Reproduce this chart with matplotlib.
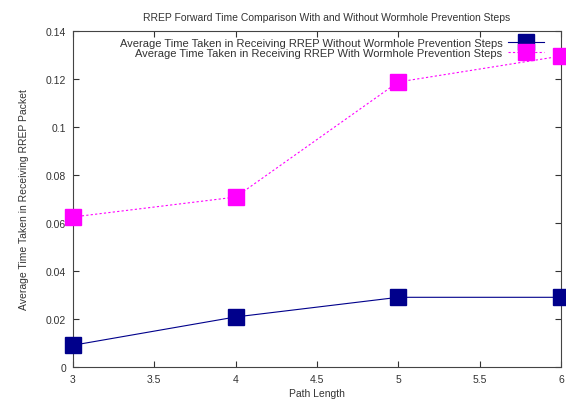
import matplotlib.pyplot as plt

path_length = [3, 4, 5, 6]
time_without = [0.009, 0.0208, 0.029, 0.029]
time_with = [0.0625, 0.0708, 0.1188, 0.1296]
label_without = 'Average Time Taken in Receiving RREP Without Wormhole Prevention Steps'
label_with = 'Average Time Taken in Receiving RREP With Wormhole Prevention Steps'

plt.rcParams['font.family'] = ['Liberation Sans', 'DejaVu Sans']
fig = plt.figure(figsize=(5.66, 4.02), dpi=100)
ax = fig.add_axes([0.129, 0.085, 0.862, 0.835])

ax.plot(path_length, time_without, color='#00008b', lw=0.8, marker='s',
        markersize=12, label=label_without, clip_on=False, zorder=3)
ax.plot(path_length, time_with, color='#ff00ff', lw=0.8, ls=(0, (2, 2)),
        marker='s', markersize=12, label=label_with, clip_on=False, zorder=3)

ax.set_xlim(3, 6)
ax.set_ylim(0, 0.14)
ax.set_xticks([3, 3.5, 4, 4.5, 5, 5.5, 6])
ax.set_xticklabels(['3', '3.5', '4', '4.5', '5', '5.5', '6'])
ax.set_yticks([0, 0.02, 0.04, 0.06, 0.08, 0.1, 0.12, 0.14])
ax.set_yticklabels(['0', '0.02', '0.04', '0.06', '0.08', '0.1', '0.12', '0.14'])
ax.tick_params(direction='in', top=True, right=True, labelsize=7.5, length=4,
               colors='#333333', pad=5)
for s in ax.spines.values():
    s.set_color('#444444')
    s.set_linewidth(0.8)

ax.set_title('RREP Forward Time Comparison With and Without Wormhole Prevention Steps',
             fontsize=7.5, color='#333333', pad=8, x=0.52)
ax.set_xlabel('Path Length', fontsize=7.5, color='#333333', labelpad=3)
ax.set_ylabel('Average Time Taken in Receiving RREP Packet', fontsize=7.5,
              color='#333333', labelpad=12)

leg = ax.legend(loc='upper right', frameon=False, markerfirst=False, fontsize=8,
                handlelength=3.2, borderaxespad=0.5, labelspacing=0.0,
                handletextpad=0.5, bbox_to_anchor=(0.985, 1.01))
for t in leg.get_texts():
    t.set_color('#333333')

fig.savefig('out.png', dpi=100)
